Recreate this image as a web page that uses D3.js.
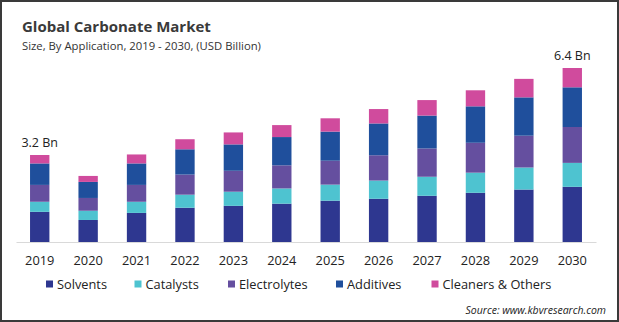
<!DOCTYPE html>
<html lang="en">
<head>
    <meta charset="UTF-8">
    <title>Global Carbonate Market</title>
    <script src="https://d3js.org/d3.v7.min.js"></script>
    <style>
        body {
            margin: 0;
            background: #fff;
            font-family: "Open Sans", sans-serif;
        }
    </style>
</head>
<body>
<main></main>
<script>

    // data (USD Billion)
    var years = ['2019', '2020', '2021', '2022', '2023', '2024', '2025', '2026', '2027', '2028', '2029', '2030'];
    var seriesNames = ['Solvents', 'Catalysts', 'Electrolytes', 'Additives', 'Cleaners & Others'];
    var solvents    = [1.11, 0.81, 1.07, 1.26, 1.33, 1.41, 1.52, 1.59, 1.70, 1.81, 1.93, 2.03];
    var catalysts   = [0.37, 0.34, 0.41, 0.48, 0.52, 0.56, 0.59, 0.67, 0.70, 0.74, 0.81, 0.88];
    var electrolytes= [0.62, 0.47, 0.62, 0.74, 0.77, 0.85, 0.88, 0.93, 1.04, 1.10, 1.17, 1.32];
    var additives   = [0.79, 0.59, 0.79, 0.93, 0.97, 1.04, 1.07, 1.17, 1.21, 1.34, 1.41, 1.46];
    var cleaners    = [0.31, 0.22, 0.33, 0.37, 0.44, 0.44, 0.49, 0.53, 0.57, 0.59, 0.68, 0.71];
    var totalLabels = {'2019': '3.2 Bn', '2030': '6.4 Bn'};

    var colors = ['#2e3790', '#4ec3d0', '#654f9f', '#1f4f9c', '#d04b9d'];

    var w = 619, h = 322;

    var rows = years.map(function(y, i) {
        return {year: y, 'Solvents': solvents[i], 'Catalysts': catalysts[i], 'Electrolytes': electrolytes[i],
                'Additives': additives[i], 'Cleaners & Others': cleaners[i]};
    });

    var svg = d3.select('main')
                .append('svg')
                .attr('width', w)
                .attr('height', h);

    // frame
    svg.append('rect')
        .attr('x', 1).attr('y', 1)
        .attr('width', w - 2).attr('height', h - 2)
        .attr('fill', '#fff')
        .attr('stroke', '#3a3a3a')
        .attr('stroke-width', 2);

    // titles
    svg.append('text')
        .attr('x', 22).attr('y', 32)
        .attr('font-size', '15px')
        .attr('font-weight', 'bold')
        .attr('fill', '#3a3a3a')
        .text('Global Carbonate Market');
    svg.append('text')
        .attr('x', 22).attr('y', 50)
        .attr('font-size', '11.3px')
        .attr('fill', '#333')
        .text('Size, By Application, 2019 - 2030, (USD Billion)');

    var x = d3.scaleBand()
        .domain(years)
        .range([16, 596])
        .paddingInner(0.6)
        .paddingOuter(0.29);

    var y = d3.scaleLinear()
        .domain([0, 6.4])
        .range([242, 68]);

    var stack = d3.stack().keys(seriesNames);
    var layers = stack(rows);

    svg.append('g')
        .selectAll('g')
        .data(layers)
        .enter().append('g')
        .attr('fill', function(d, i) { return colors[i]; })
        .selectAll('rect')
        .data(function(d) { return d; })
        .enter().append('rect')
        .attr('x', function(d) { return x(d.data.year); })
        .attr('y', function(d) { return y(d[1]); })
        .attr('width', x.bandwidth())
        .attr('height', function(d) { return y(d[0]) - y(d[1]); });

    // x axis
    var xAxis = svg.append('g')
        .attr('transform', 'translate(0,242)')
        .call(d3.axisBottom(x).tickSize(0).tickPadding(14));
    xAxis.select('.domain').attr('stroke', '#d9d9d9').attr('stroke-width', 1.2);
    xAxis.selectAll('text')
        .attr('font-family', '"Open Sans", sans-serif')
        .attr('font-size', '12.8px')
        .attr('fill', '#222');

    // total labels
    var lastLayer = layers[layers.length - 1];
    svg.append('g')
        .selectAll('text')
        .data(lastLayer.filter(function(d) { return totalLabels[d.data.year]; }))
        .enter().append('text')
        .attr('x', function(d) { return x(d.data.year) + x.bandwidth() / 2; })
        .attr('y', function(d) { return y(d[1]) - 8; })
        .attr('text-anchor', 'middle')
        .attr('font-size', '12.5px')
        .attr('fill', '#222')
        .text(function(d) { return totalLabels[d.data.year]; });

    // legend
    var legendX = [46, 134.5, 228, 336, 431.5];
    var legend = svg.append('g').attr('id', 'legend');
    var item = legend.selectAll('g')
        .data(seriesNames)
        .enter().append('g')
        .attr('transform', function(d, i) { return 'translate(' + legendX[i] + ',284)'; });
    item.append('rect')
        .attr('x', 0).attr('y', -3.5)
        .attr('width', 7).attr('height', 7)
        .attr('fill', function(d, i) { return colors[i]; });
    item.append('text')
        .attr('x', 11).attr('y', 4.5)
        .attr('font-size', '12.8px')
        .attr('fill', '#222')
        .text(function(d) { return d; });

    // source
    svg.append('text')
        .attr('x', 606).attr('y', 314)
        .attr('text-anchor', 'end')
        .attr('font-size', '10.5px')
        .attr('font-style', 'italic')
        .attr('fill', '#222')
        .text('Source: www.kbvresearch.com');

</script>
</body>
</html>
